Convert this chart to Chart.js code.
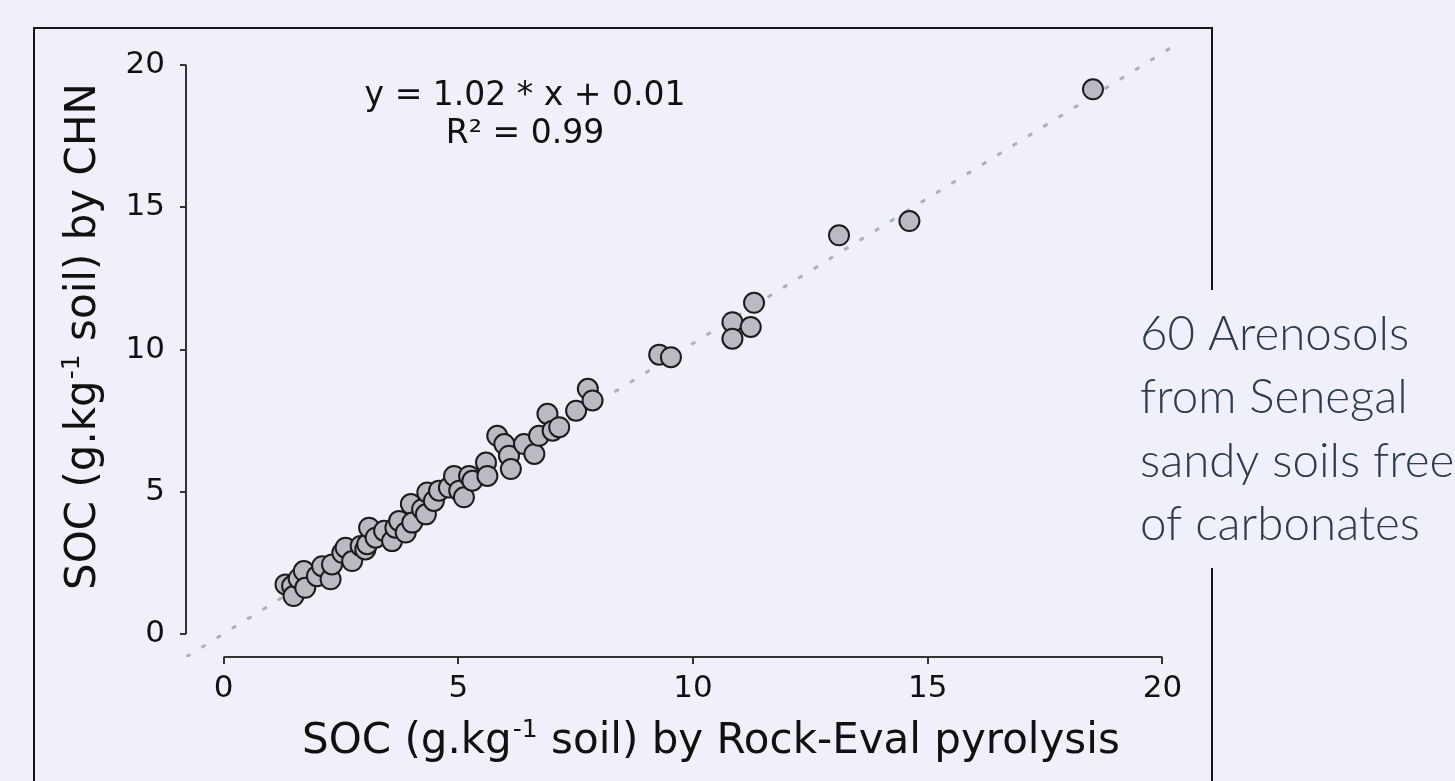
<!DOCTYPE html>
<html>
<head>
<meta charset="utf-8">
<script src="https://cdn.jsdelivr.net/npm/chart.js@4.4.1/dist/chart.umd.min.js"></script>
<style>
  html, body { margin:0; padding:0; width:1455px; height:781px; overflow:hidden; background:#eff0fa; }
  #c { position:absolute; left:0; top:0; }
</style>
</head>
<body>
<canvas id="c" width="1455" height="781"></canvas>
<script>
// ---- data ----
const socRockEval = [1.32,1.46,1.49,1.60,1.71,1.74,1.99,2.10,2.28,2.31,2.53,2.60,2.74,2.92,3.02,3.06,3.10,3.24,3.42,3.59,
  3.66,3.74,3.88,3.99,4.02,4.23,4.31,4.34,4.48,4.59,4.80,4.91,5.02,5.12,5.23,5.30,5.59,5.62,5.83,5.98,
  6.08,6.12,6.40,6.62,6.72,6.90,7.01,7.15,7.51,7.76,7.86,9.28,9.53,10.84,10.84,11.23,11.30,13.11,14.61,18.52];
const socCHN = [1.75,1.69,1.34,1.95,2.22,1.63,2.04,2.39,1.93,2.45,2.86,3.04,2.57,3.10,2.98,3.16,3.74,3.39,3.63,3.27,
  3.74,3.98,3.57,4.57,3.92,4.39,4.21,4.98,4.68,5.04,5.15,5.56,5.04,4.81,5.56,5.39,6.03,5.56,6.97,6.68,
  6.27,5.80,6.68,6.33,6.97,7.74,7.15,7.27,7.85,8.62,8.21,9.82,9.73,10.96,10.38,10.79,11.64,14.01,14.51,19.14];
const fitLineX = [-0.8, 20.38];
const fitLineY = [-0.8, 20.8];
const xTickValues = [0, 5, 10, 15, 20];
const yTickValues = [0, 5, 10, 15, 20];
const xTitleParts = ['SOC (g.kg', '-1', ' soil) by Rock-Eval pyrolysis'];
const yTitleParts = ['SOC (g.kg', '-1', ' soil) by CHN'];
const equationLines = ['y = 1.02 * x + 0.01', 'R\u00B2 = 0.99'];
const noteLines = ['60 Arenosols', 'from Senegal', 'sandy soils free', 'of carbonates'];

const points = socRockEval.map((x, i) => ({ x: x, y: socCHN[i] }));
const fitPoints = fitLineX.map((x, i) => ({ x: x, y: fitLineY[i] }));

const FONT = "'DejaVu Sans', Verdana, sans-serif";

function drawSupText(ctx, parts, x, y, size) {
  let cx = x;
  ctx.font = size + 'px ' + FONT;
  ctx.fillText(parts[0], cx, y); cx += ctx.measureText(parts[0]).width;
  ctx.font = Math.round(size * 0.6) + 'px ' + FONT;
  ctx.fillText(parts[1], cx + 1, y - size * 0.38); cx += ctx.measureText(parts[1]).width + 1;
  ctx.font = size + 'px ' + FONT;
  ctx.fillText(parts[2], cx, y);
}

const decor = {
  id: 'decor',
  beforeDraw(chart) {
    const ctx = chart.ctx;
    ctx.save();
    ctx.strokeStyle = '#151515';
    ctx.lineWidth = 2;
    ctx.beginPath();
    ctx.moveTo(34, 781); ctx.lineTo(34, 28); ctx.lineTo(1212, 28); ctx.lineTo(1212, 290);
    ctx.moveTo(1212, 568); ctx.lineTo(1212, 781);
    ctx.stroke();
    ctx.restore();
  },
  afterDraw(chart) {
    const ctx = chart.ctx;
    const xs = chart.scales.x, ys = chart.scales.y;
    ctx.save();
    ctx.strokeStyle = '#333';
    ctx.lineWidth = 2;
    ctx.beginPath();
    ctx.moveTo(xs.getPixelForValue(xTickValues[0]), xs.top);
    ctx.lineTo(xs.getPixelForValue(xTickValues[xTickValues.length - 1]), xs.top);
    ctx.moveTo(ys.right, ys.getPixelForValue(yTickValues[0]));
    ctx.lineTo(ys.right, ys.getPixelForValue(yTickValues[yTickValues.length - 1]));
    ctx.stroke();
    // axis titles
    ctx.fillStyle = '#111';
    ctx.textAlign = 'left';
    ctx.textBaseline = 'alphabetic';
    drawSupText(ctx, xTitleParts, 302, 753, 42);
    ctx.save();
    ctx.translate(95, 590);
    ctx.rotate(-Math.PI / 2);
    drawSupText(ctx, yTitleParts, 0, 0, 42);
    ctx.restore();
    // equation
    ctx.fillStyle = '#111';
    ctx.font = '33px ' + FONT;
    ctx.textAlign = 'center';
    ctx.fillText(equationLines[0], 525, 105);
    ctx.fillText(equationLines[1], 525, 143);
    // side note
    ctx.fillStyle = '#2f3b4d';
    ctx.font = "300 47.5px Lato, 'Open Sans', sans-serif";
    ctx.textAlign = 'left';
    const base = [350, 413, 477, 540];
    noteLines.forEach((t, i) => ctx.fillText(t, 1140, base[i]));
    ctx.restore();
  }
};

new Chart(document.getElementById('c'), {
  type: 'scatter',
  data: {
    datasets: [
      {
        data: points,
        pointRadius: 10,
        pointHoverRadius: 10,
        pointBackgroundColor: '#b9bac2',
        pointBorderColor: '#1c1c1c',
        pointBorderWidth: 2,
        order: 0
      },
      {
        type: 'line',
        data: fitPoints,
        borderColor: '#aeb0b9',
        borderWidth: 3,
        borderDash: [5, 13],
        pointRadius: 0,
        fill: false,
        order: 1
      }
    ]
  },
  options: {
    responsive: false,
    animation: false,
    devicePixelRatio: 1,
    layout: { padding: { left: 0, top: 42, right: 255, bottom: 0 } },
    plugins: { legend: { display: false }, tooltip: { enabled: false } },
    scales: {
      x: {
        type: 'linear', min: -0.8, max: 20.8,
        afterBuildTicks: s => { s.ticks = xTickValues.map(v => ({ value: v })); },
        afterFit: s => { s.height = 124; },
        border: { display: false },
        grid: { display: true, drawOnChartArea: false, drawTicks: true, tickLength: 7, color: '#333', lineWidth: 2 },
        ticks: { font: { family: FONT, size: 31 }, color: '#111', padding: 6, maxRotation: 0, autoSkip: false },
        title: { display: false }
      },
      y: {
        type: 'linear', min: -0.8, max: 20.8,
        afterBuildTicks: s => { s.ticks = yTickValues.map(v => ({ value: v })); },
        afterFit: s => { s.width = 186; },
        border: { display: false },
        grid: { display: true, drawOnChartArea: false, drawTicks: true, tickLength: 6, color: '#333', lineWidth: 2 },
        ticks: { font: { family: FONT, size: 31 }, color: '#111', padding: 15, autoSkip: false },
        title: { display: false }
      }
    }
  },
  plugins: [decor]
});
</script>
</body>
</html>
